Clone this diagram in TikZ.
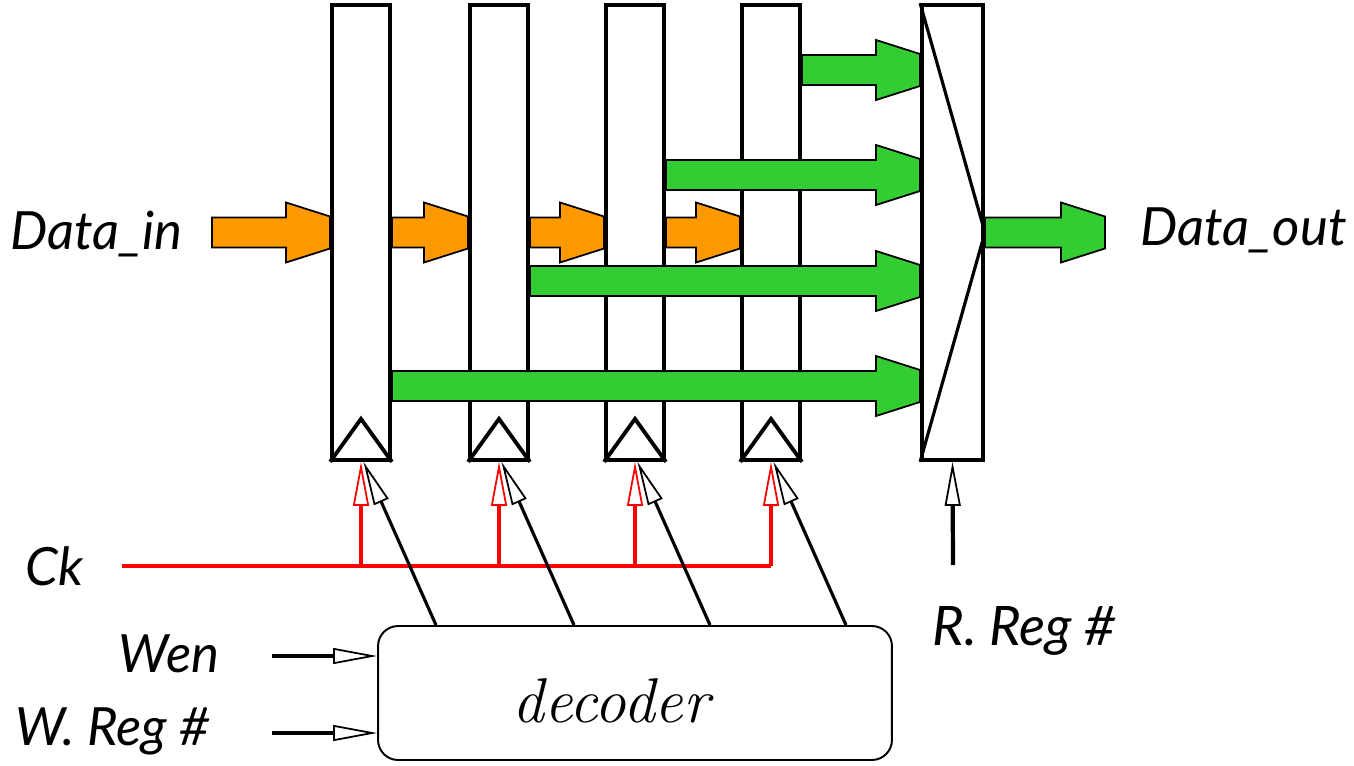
\documentclass[tikz,border=0pt]{standalone}
\usepackage{fontspec}
\setsansfont{Lato}
\usetikzlibrary{arrows.meta,backgrounds}
\definecolor{busor}{RGB}{255,153,0}
\definecolor{busgr}{RGB}{51,204,51}
\newcommand\busarrow[3]{\draw[fill=#1,line width=1pt,line join=miter] ([yshift=3mm]#2) -- ([xshift=-8.8mm,yshift=3mm]#3) -- ([xshift=-8.8mm,yshift=6mm]#3) -- ([yshift=3.2mm]#3) -- ([yshift=-3.2mm]#3) -- ([xshift=-8.8mm,yshift=-6mm]#3) -- ([xshift=-8.8mm,yshift=-3mm]#3) -- ([yshift=-3mm]#2) -- cycle;}
\begin{document}
\begin{tikzpicture}[x=0.02cm,y=-0.02cm,
	reg/.style={draw,fill=white,line width=2.2pt,minimum width=1.16cm,minimum height=9.1cm,inner sep=0pt},
	lbl/.style={anchor=base west,inner sep=0pt,font=\sffamily\itshape\fontsize{30}{36}\selectfont},
	clk/.style={red,line width=2.2pt},
	opentip/.style={-{Triangle[length=25pt,width=9pt,fill=white,line width=1pt]}},
	ctl/.style={line width=2.4pt,opentip}]
	\useasboundingbox (0,0) rectangle (1354,766);
	\foreach \i/\x in {1/361,2/499,3/635,4/771} \node[reg] (r\i) at (\x,232.5) {};
	\node[reg,minimum width=1.22cm] (mux) at (952.5,232.5) {};
	\draw[line width=1.8pt] (mux.north west) -- (mux.east) -- (mux.south west);
	\foreach \i in {1,...,4} \draw[line width=2.2pt,line join=miter] (r\i.south west) -- ([yshift=0.86cm]r\i.south) -- (r\i.south east);
	\node[lbl] (din) at (10,250) {Data\_in};
	\node[lbl] (dout) at (1140,246) {Data\_out};
	\node[lbl] (ck) at (25,585) {Ck};
	\node[lbl] (wen) at (118,672) {Wen};
	\node[lbl] (wreg) at (15,745) {W. Reg \#};
	\node[lbl,font=\sffamily\itshape\fontsize{31}{36}\selectfont] (rreg) at (932,645) {R. Reg \#};
	\node[draw,rounded corners=0.4cm,line width=1.1pt,minimum width=10.28cm,minimum height=2.68cm] (dec) at (635,693) {};
	\node[anchor=base,inner sep=0pt,font=\rmfamily\itshape\fontsize{36}{40}\selectfont] (dect) at (611,722) {decoder};
	\coordinate (dinr) at (212,232.5);
	\coordinate (doutl) at (1105,232.5);
	\begin{scope}[on background layer]
		\busarrow{busor}{dinr}{r1.west}
		\busarrow{busor}{r1.east}{r2.west}
		\busarrow{busor}{r2.east}{r3.west}
		\busarrow{busor}{r3.east}{r4.west}
	\end{scope}
	\foreach \r/\y in {r4/70,r3/175,r2/281,r1/386}{
		\path (\r.east |- 0,\y) coordinate (s\r) (mux.west |- 0,\y) coordinate (e\r);
		\busarrow{busgr}{s\r}{e\r}}
	\busarrow{busgr}{mux.east}{doutl}
	\coordinate (ckl) at (122,566);
	\draw[clk] (ckl) -- (r4.south |- ckl);
	\foreach \i in {1,...,4}{
		\draw[clk,opentip] (r\i.south |- ckl) -- (r\i.south);
		\draw[ctl,line width=1.8pt] ([xshift=1.5cm]r\i.south |- dec.north) -- ([xshift=0.05cm]r\i.south);}
	\coordinate (rra) at (953,565);
	\draw[ctl] (rra) -- (mux.south);
	\coordinate (wa) at (272,656);
	\coordinate (wra) at (272,733);
	\draw[ctl] (wa) -- (dec.west |- wa);
	\draw[ctl] (wra) -- (dec.west |- wra);
\end{tikzpicture}
\end{document}
